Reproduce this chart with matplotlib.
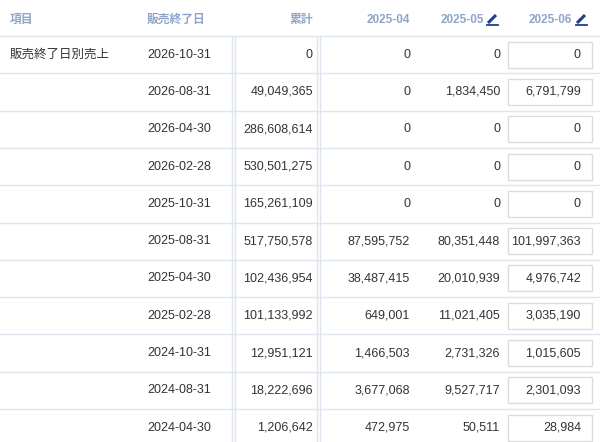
import matplotlib
matplotlib.use("Agg")
import matplotlib.pyplot as plt
from matplotlib.patches import Rectangle

plt.rcParams["font.family"] = ["Liberation Sans", "Noto Sans CJK JP"]

# --------------------------------------------------------------------------- #
# data
# --------------------------------------------------------------------------- #
headers = ["項目", "販売終了日", "累計", "2025-04", "2025-05", "2025-06"]
item_label = "販売終了日別売上"
end_dates = ["2026-10-31", "2026-08-31", "2026-04-30", "2026-02-28", "2025-10-31",
             "2025-08-31", "2025-04-30", "2025-02-28", "2024-10-31", "2024-08-31",
             "2024-04-30"]
total = [0, 49049365, 286608614, 530501275, 165261109, 517750578, 102436954,
         101133992, 12951121, 18222696, 1206642]
m_2025_04 = [0, 0, 0, 0, 0, 87595752, 38487415, 649001, 1466503, 3677068, 472975]
m_2025_05 = [0, 1834450, 0, 0, 0, 80351448, 20010939, 11021405, 2731326, 9527717, 50511]
m_2025_06 = [0, 6791799, 0, 0, 0, 101997363, 4976742, 3035190, 1015605, 2301093, 28984]

# --------------------------------------------------------------------------- #
# layout (pixel coordinates)
# --------------------------------------------------------------------------- #
W, H = 600, 442
HEAD_Y = 20
TOP = 36
ROW_H = 37.3
HEAD_COLOR = "#8fa5c8"
TEXT_COLOR = "#333333"
LINE_COLOR = "#dde5ef"

fig = plt.figure(figsize=(W / 100, H / 100), dpi=100)
ax = fig.add_axes([0, 0, 1, 1])
ax.set_xlim(0, W)
ax.set_ylim(H, 0)
ax.axis("off")

head_pos = [(10, "left"), (147, "left"), (313, "right"), (410, "right"),
            (484, "right"), (572, "right")]
for (x, ha), h in zip(head_pos, headers):
    ax.text(x, HEAD_Y, h, ha=ha, va="center", fontsize=8.5, color=HEAD_COLOR,
            fontweight="bold")


def pencil(x, y):
    ax.plot([x, x + 8], [y + 4, y - 4], color="#1f3f8f", lw=2.2,
            solid_capstyle="butt")
    ax.plot([x - 1, x + 10], [y + 6, y + 6], color="#1f3f8f", lw=1.3)


pencil(488, HEAD_Y - 1)
pencil(577, HEAD_Y - 1)

# horizontal row lines
for i in range(len(end_dates) + 1):
    y = TOP + i * ROW_H
    ax.plot([0, W], [y, y], color=LINE_COLOR, lw=1.0)

# double vertical separators
for x in (232, 235, 317, 320):
    ax.plot([x, x], [TOP, H], color=LINE_COLOR, lw=1.0)

for i, d in enumerate(end_dates):
    yc = TOP + (i + 0.5) * ROW_H
    if i == 0:
        ax.text(10, yc, item_label, ha="left", va="center", fontsize=9,
                color=TEXT_COLOR, family="Noto Sans CJK JP")
    ax.text(147, yc, d, ha="left", va="center", fontsize=9, color=TEXT_COLOR)
    ax.text(313, yc, f"{total[i]:,}", ha="right", va="center", fontsize=9,
            color=TEXT_COLOR)
    ax.text(410, yc, f"{m_2025_04[i]:,}", ha="right", va="center", fontsize=9,
            color=TEXT_COLOR)
    ax.text(500, yc, f"{m_2025_05[i]:,}", ha="right", va="center", fontsize=9,
            color=TEXT_COLOR)
    ax.add_patch(Rectangle((508, yc - 13), 84, 26, facecolor="white",
                           edgecolor="#dcdcdc", lw=1.0))
    ax.text(581, yc, f"{m_2025_06[i]:,}", ha="right", va="center", fontsize=9,
            color=TEXT_COLOR)

fig.savefig("out.png", dpi=100)
